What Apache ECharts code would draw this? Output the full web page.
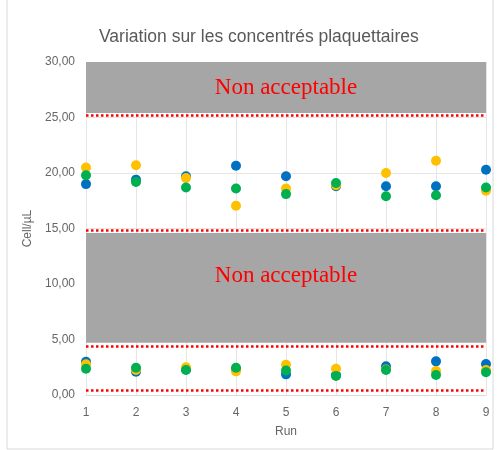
<!DOCTYPE html>
<html><head><meta charset="utf-8">
<script src="https://cdn.jsdelivr.net/npm/echarts@6/dist/echarts.min.js"></script>
<style>html,body{margin:0;padding:0;background:#fff}#c{width:498px;height:450px}</style>
</head><body><div id="c"></div>
<script>
const runs = [1,2,3,4,5,6,7,8,9];
const blueHigh   = [19.0,19.4,19.7,20.65,19.7,18.8,18.8,18.8,20.3];
const orangeHigh = [20.5,20.7,19.55,17.05,18.6,18.9,20.0,21.1,18.4];
const greenHigh  = [19.8,19.2,18.7,18.6,18.1,19.1,17.9,18.0,18.7];
const blueLow    = [3.0,2.1,2.3,2.3,1.86,1.8,2.58,3.03,2.8];
const orangeLow  = [2.76,2.25,2.5,2.13,2.73,2.37,2.3,2.16,2.25];
const greenLow   = [2.37,2.46,2.25,2.46,2.2,1.71,2.25,1.8,2.05];
const bands = [[25.4,30],[4.7,14.6]];
const limits = [25.2,14.8,4.4,0.45];
const bandText = 'Non acceptable';
const yTicks = [0,5,10,15,20,25,30];

function pts(a,b){return runs.map((r,i)=>[r,a[i]]).concat(runs.map((r,i)=>[r,b[i]]));}
const chart = echarts.init(document.getElementById('c'));
const labelFont = 'Liberation Sans';
function sc(name,color,a,b,extra){
  return Object.assign({type:'scatter',name,symbolSize:10,itemStyle:{color,opacity:1},data:pts(a,b),z:3},extra||{});
}
chart.setOption({
  animation:false,
  title:{text:'Variation sur les concentrés plaquettaires',left:94,top:23,
    textStyle:{fontFamily:labelFont,fontSize:17.5,fontWeight:'normal',color:'#595959'}},
  graphic:[{type:'rect',shape:{x:7,y:-2,width:486,height:451},style:{fill:'none',stroke:'#D9D9D9',lineWidth:1},silent:true}],
  grid:{left:86,right:12,top:62,bottom:55},
  xAxis:{type:'value',min:1,max:9,interval:1,name:'Run',nameLocation:'middle',nameGap:31,
    nameTextStyle:{fontFamily:labelFont,fontSize:12,color:'#666666'},
    axisLine:{show:true,lineStyle:{color:'#D9D9D9'}},axisTick:{show:false},
    axisLabel:{fontFamily:labelFont,fontSize:12,color:'#666666',margin:12},
    splitLine:{show:true,lineStyle:{color:'#E6E6E6'}}},
  yAxis:{type:'value',min:0,max:30,interval:5,name:'Cell/µL',nameLocation:'middle',nameGap:40,
    nameTextStyle:{fontFamily:labelFont,fontSize:12,color:'#666666'},
    axisLine:{show:false},axisTick:{show:false},
    axisLabel:{fontFamily:labelFont,fontSize:12,color:'#666666',margin:11,formatter:v=>v.toFixed(2).replace('.',',')},
    splitLine:{show:true,lineStyle:{color:'#E6E6E6'}}},
  series:[
    sc('Bleu','#0070C0',blueHigh,blueLow,{
      markArea:{silent:true,z:1,itemStyle:{color:'#A6A6A6'},
        label:{show:true,position:'inside',color:'#FF0000',fontFamily:'Liberation Serif',fontSize:23},
        data:bands.map((b,i)=>[{xAxis:1,yAxis:b[1],name:bandText,label:{offset:[0,i===1?-12:0]}},{xAxis:9,yAxis:b[0]}])},
      markLine:{silent:true,symbol:['none','none'],z:2,label:{show:false},
        lineStyle:{color:'#FF0000',type:'dotted',width:2.5},
        data:limits.map(v=>({yAxis:v}))}
    }),
    sc('Orange','#FFC000',orangeHigh,orangeLow),
    sc('Vert','#00B050',greenHigh,greenLow)
  ]
});
</script></body></html>
